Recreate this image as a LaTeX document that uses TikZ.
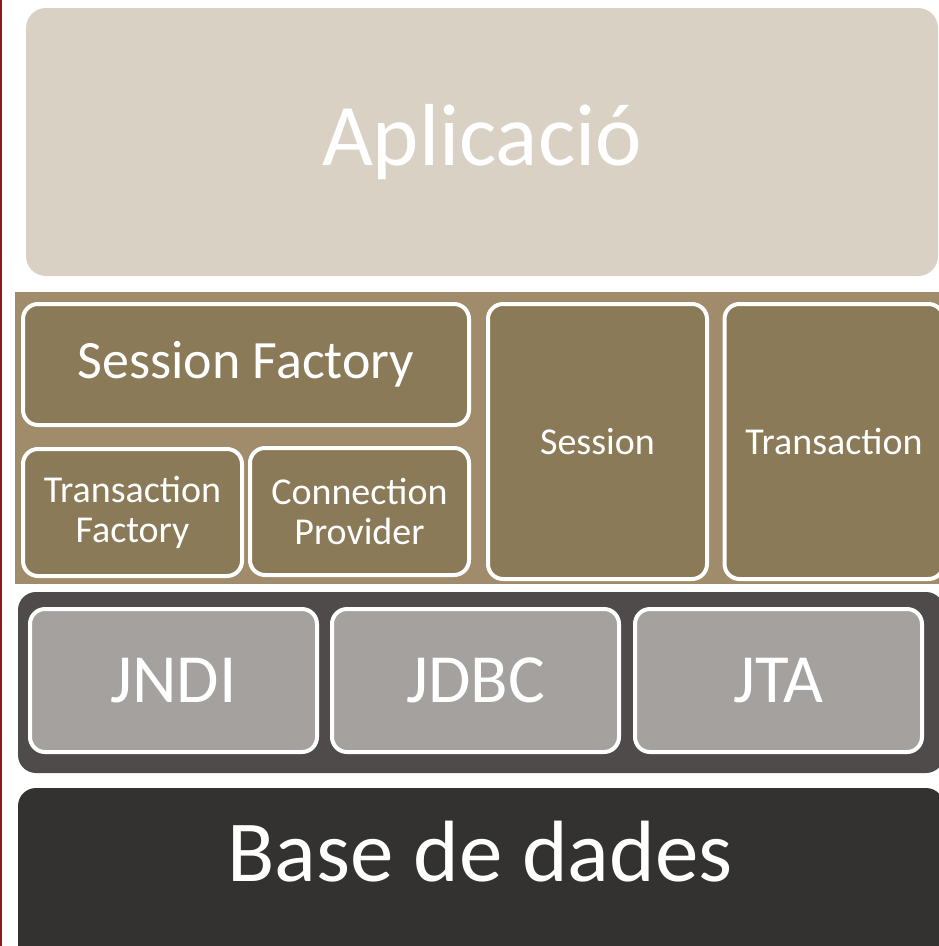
\documentclass[tikz,border=0pt]{standalone}
\usepackage{fontspec}
\setmainfont{Carlito}
\definecolor{appfill}{HTML}{D9D2C4}
\definecolor{tanband}{HTML}{A08B6A}
\definecolor{olivebox}{HTML}{8A7A57}
\definecolor{darkband}{HTML}{4F4B4A}
\definecolor{greybox}{HTML}{A5A19F}
\definecolor{dbfill}{HTML}{343230}
\definecolor{edgered}{HTML}{8B1A1A}
\tikzset{
  layer/.style={rounded corners=20pt, draw=none, inner sep=0pt, text=white},
  olive/.style={fill=olivebox, draw=white, line width=4pt, rounded corners=15pt, inner sep=0pt, text=white, align=center},
  grey/.style={fill=greybox, draw=white, line width=4pt, rounded corners=15pt, inner sep=0pt, text=white},
}
\begin{document}
\begin{tikzpicture}[x=1pt,y=-1pt]
\useasboundingbox (0,0) rectangle (939,946);
\clip (0,0) rectangle (939,946);
\fill[white] (0,0) rectangle (939,946);
% left red edge
\fill[edgered] (0,0) rectangle (2,946);
% application layer
\node[layer, fill=appfill, minimum width=912pt, minimum height=268pt,
      font=\fontsize{88}{100}\selectfont] (app) at (482,142) {Aplicació};
% hibernate band
\node[fill=tanband, draw=none, inner sep=0pt, minimum width=930pt, minimum height=292pt] (band) at (480,438) {};
\node[olive, minimum width=446pt, minimum height=121pt, font=\fontsize{54}{60}\selectfont] (sf) at (246,364.5) {Session Factory};
\node[olive, minimum width=219pt, minimum height=127pt, font=\fontsize{38}{42}\selectfont] (tf) at (132.5,512.5) {Transaction\\[-2pt]Factory};
\node[olive, minimum width=219pt, minimum height=127pt, font=\fontsize{38}{42}\selectfont] (cp) at (359.5,511.5) {Connection\\[-2pt]Provider};
\node[olive, minimum width=219pt, minimum height=275pt, font=\fontsize{38}{42}\selectfont] (sess) at (597.5,441.5) {Session};
\node[olive, minimum width=219pt, minimum height=275pt, font=\fontsize{38}{42}\selectfont] (tx) at (834,441.5) {Transaction};
% java apis band
\node[layer, fill=darkband, rounded corners=18pt, minimum width=926pt, minimum height=181pt] (api) at (481,682.5) {};
\node[grey, minimum width=287pt, minimum height=143pt, font=\fontsize{69}{72}\selectfont] (jndi) at (173.5,680.5) {JNDI};
\node[grey, minimum width=287pt, minimum height=143pt, font=\fontsize{69}{72}\selectfont] (jdbc) at (475.5,680.5) {JDBC};
\node[grey, minimum width=287pt, minimum height=143pt, font=\fontsize{69}{72}\selectfont] (jta) at (778.5,680.5) {JTA};
% database
\node[layer, fill=dbfill, rounded corners=18pt, minimum width=926pt, minimum height=180pt] (db) at (481,878) {};
\node[text=white, inner sep=0pt, font=\fontsize{87}{100}\selectfont] (dbl) at (480,852) {Base de dades};
\end{tikzpicture}
\end{document}
